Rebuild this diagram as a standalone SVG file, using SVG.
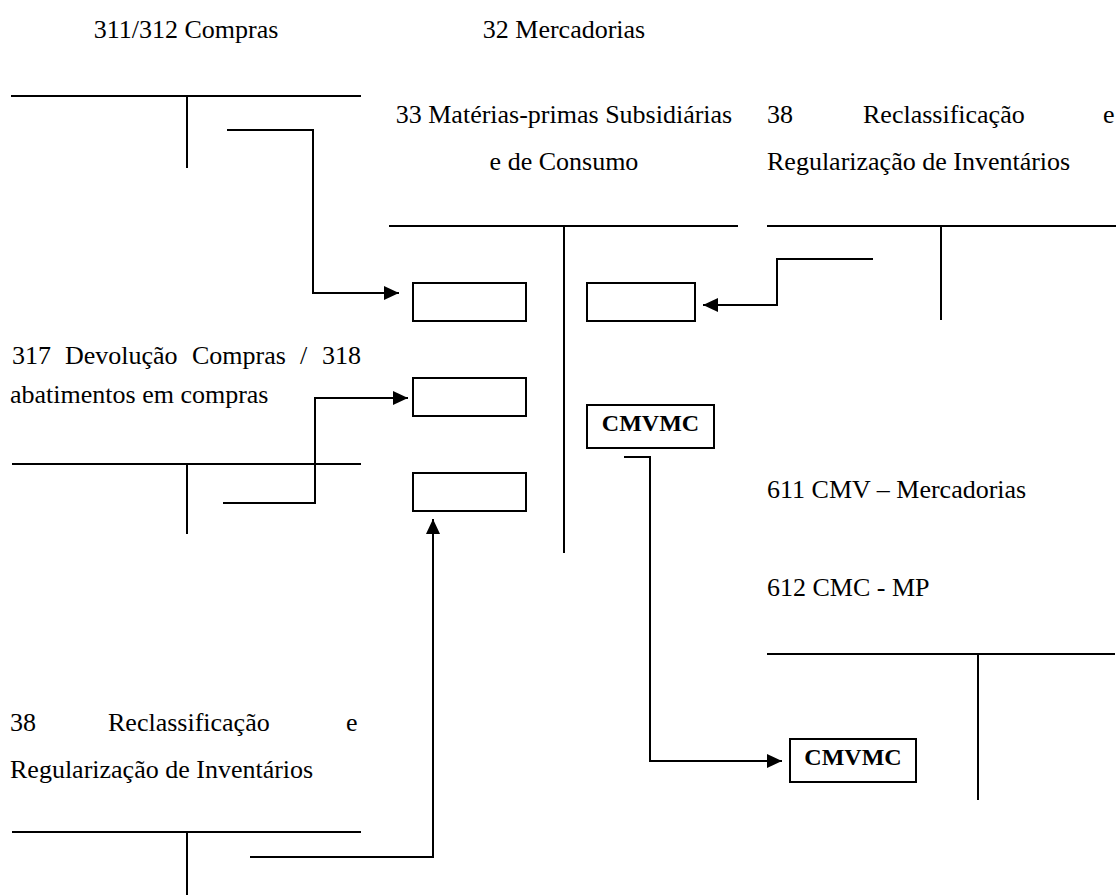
<svg xmlns="http://www.w3.org/2000/svg" width="1119" height="895" viewBox="0 0 1119 895">
<style>
.t{font-family:"Liberation Serif","Times New Roman",serif;font-size:26px;fill:#000}
.b{font-family:"Liberation Serif","Times New Roman",serif;font-size:24px;font-weight:bold;fill:#000}
.ln{stroke:#000;stroke-width:2;fill:none}
.bx{stroke:#000;stroke-width:2;fill:#fff}
.cn{stroke:#000;stroke-width:2;fill:none}
</style>
<defs>
<marker id="arr" markerWidth="16" markerHeight="14" refX="15" refY="7" orient="auto" markerUnits="userSpaceOnUse">
<path d="M0,0 L15,7 L0,14 z" fill="#000"/>
</marker>
</defs>
<rect width="1119" height="895" fill="#fff"/>

<g id="acc-311">
<text class="t" x="186" y="38" text-anchor="middle">311/312 Compras</text>
<path class="ln" d="M11,96 H361 M187,96 V168"/>
</g>

<g id="acc-32-33">
<text class="t" x="564" y="38" text-anchor="middle">32 Mercadorias</text>
<text class="t" x="564" y="123" text-anchor="middle">33 Matérias-primas Subsidiárias</text>
<text class="t" x="564" y="170" text-anchor="middle">e de Consumo</text>
<path class="ln" d="M389,226 H738 M564,226 V553"/>
</g>

<g id="acc-38-top">
<text class="t" y="123"><tspan x="767">38</tspan><tspan x="863">Reclassificação</tspan><tspan x="1103">e</tspan></text>
<text class="t" x="767" y="170">Regularização de Inventários</text>
<path class="ln" d="M767,226 H1116 M941,226 V320"/>
</g>

<g id="acc-317">
<text class="t" y="364"><tspan x="12">317</tspan><tspan x="65">Devolução</tspan><tspan x="192">Compras</tspan><tspan x="300">/</tspan><tspan x="322">318</tspan></text>
<text class="t" x="10" y="403">abatimentos em compras</text>
<path class="ln" d="M12,464 H361 M187,464 V534"/>
</g>

<g id="acc-611-612">
<text class="t" x="767" y="498">611 CMV – Mercadorias</text>
<text class="t" x="767" y="596">612 CMC - MP</text>
<path class="ln" d="M767,654 H1115 M978,654 V800"/>
</g>

<g id="acc-38-bottom">
<text class="t" y="731"><tspan x="10">38</tspan><tspan x="108">Reclassificação</tspan><tspan x="346">e</tspan></text>
<text class="t" x="10" y="778">Regularização de Inventários</text>
<path class="ln" d="M12,832 H361 M187,832 V895"/>
</g>

<g id="box-d1"><rect class="bx" x="413" y="283" width="113" height="38"/></g>
<g id="box-c1"><rect class="bx" x="587" y="283" width="108" height="38"/></g>
<g id="box-d2"><rect class="bx" x="413" y="378" width="113" height="38"/></g>
<g id="box-d3"><rect class="bx" x="413" y="473" width="113" height="38"/></g>
<g id="box-cmvmc1"><rect class="bx" x="587" y="405" width="127" height="43"/><text class="b" x="650.5" y="431" text-anchor="middle">CMVMC</text></g>
<g id="box-cmvmc2"><rect class="bx" x="790" y="739" width="126" height="43"/><text class="b" x="853" y="765" text-anchor="middle">CMVMC</text></g>

<g id="connectors">
<path class="cn" d="M227,130 H313 V293 H399" marker-end="url(#arr)"/>
<path class="cn" d="M223,503 H315 V398 H408" marker-end="url(#arr)"/>
<path class="cn" d="M250,857 H433 V519" marker-end="url(#arr)"/>
<path class="cn" d="M873,259 H777 V305 H703" marker-end="url(#arr)"/>
<path class="cn" d="M624,457 H650 V761 H782" marker-end="url(#arr)"/>
</g>
</svg>
